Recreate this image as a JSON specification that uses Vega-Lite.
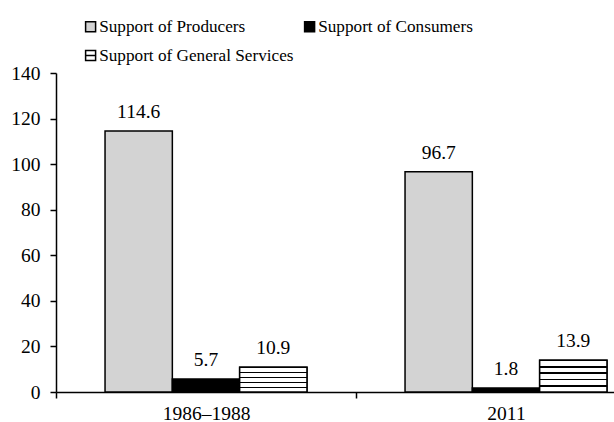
{
  "$schema": "https://vega.github.io/schema/vega-lite/v6.json",
  "width": 558,
  "height": 319,
  "autosize": {"type": "none"},
  "padding": {"left": 56, "top": 73, "right": 0, "bottom": 30},
  "background": "white",
  "config": {
    "view": {"stroke": null},
    "font": "Times New Roman, Liberation Serif, serif",
    "text": {"font": "Times New Roman, Liberation Serif, serif"},
    "axis": {
      "labelFont": "Times New Roman, Liberation Serif, serif",
      "labelFontSize": 19.5,
      "labelColor": "black",
      "domainColor": "black",
      "tickColor": "black",
      "domainWidth": 1.5,
      "tickWidth": 1.5,
      "grid": false
    },
    "legend": {
      "labelFont": "Times New Roman, Liberation Serif, serif",
      "labelFontSize": 17.2,
      "labelColor": "black",
      "labelLimit": 400,
      "symbolSize": 100,
      "symbolStrokeColor": "black",
      "symbolStrokeWidth": 1.5,
      "symbolOpacity": 1,
      "labelOffset": 0,
      "rowPadding": 11,
      "columnPadding": 7,
      "padding": 0
    }
  },
  "data": {
    "values": [
      {"period": "1986–1988", "series": "Support of Producers", "value": 114.6},
      {"period": "1986–1988", "series": "Support of Consumers", "value": 5.7},
      {"period": "1986–1988", "series": "Support of General Services", "value": 10.9},
      {"period": "2011", "series": "Support of Producers", "value": 96.7},
      {"period": "2011", "series": "Support of Consumers", "value": 1.8},
      {"period": "2011", "series": "Support of General Services", "value": 13.9}
    ]
  },
  "encoding": {
    "x": {
      "field": "period",
      "type": "nominal",
      "sort": null,
      "scale": {"range": [0, 600], "paddingInner": 0, "paddingOuter": 0},
      "axis": {"labelAngle": 0, "tickBand": "extent", "tickSize": 6, "labelPadding": 6, "title": null}
    },
    "xOffset": {
      "field": "series",
      "type": "nominal",
      "sort": null,
      "scale": {"domain": ["Support of Producers", "Support of Consumers", "Support of General Services"], "paddingInner": 0, "paddingOuter": 0.7285}
    },
    "y": {
      "field": "value",
      "type": "quantitative",
      "scale": {"domain": [0, 140], "nice": false},
      "axis": {"values": [0, 20, 40, 60, 80, 100, 120, 140], "tickSize": 6, "labelPadding": 10, "title": null}
    }
  },
  "layer": [
    {
      "mark": {"type": "bar", "stroke": "black", "strokeWidth": 1.5},
      "encoding": {
        "color": {
          "field": "series",
          "type": "nominal",
          "scale": {"domain": ["Support of Producers", "Support of Consumers", "Support of General Services"], "range": ["#d3d3d3", "#000000", "#ffffff"]},
          "legend": {
            "orient": "none",
            "legendX": 26,
            "legendY": -55,
            "columns": 2,
            "title": null,
            "values": ["Support of Producers", "Support of General Services", "Support of Consumers"],
            "symbolOpacity": 1,
            "symbolStrokeColor": "black",
            "symbolStrokeWidth": 1.5,
            "symbolType": "square",
            "encode": {
              "symbols": {
                "update": {
                  "shape": {"signal": "datum.value === 'Support of General Services' ? 'M-1,-1H1V1H-1ZM-1,0H1' : 'square'"}
                }
              }
            }
          }
        }
      }
    },
    {
      "transform": [{"filter": "datum.series === 'Support of General Services'"}],
      "mark": {
        "type": "bar",
        "stroke": "black",
        "strokeWidth": 1.5,
        "fill": {
          "gradient": "linear",
          "x1": 0, "y1": 0, "x2": 0, "y2": 1,
          "stops": [
            {"offset": 0, "color": "#ffffff"},
            {"offset": 0.18, "color": "#ffffff"},
            {"offset": 0.18, "color": "#000000"},
            {"offset": 0.23, "color": "#000000"},
            {"offset": 0.23, "color": "#ffffff"},
            {"offset": 0.38, "color": "#ffffff"},
            {"offset": 0.38, "color": "#000000"},
            {"offset": 0.43, "color": "#000000"},
            {"offset": 0.43, "color": "#ffffff"},
            {"offset": 0.58, "color": "#ffffff"},
            {"offset": 0.58, "color": "#000000"},
            {"offset": 0.63, "color": "#000000"},
            {"offset": 0.63, "color": "#ffffff"},
            {"offset": 0.78, "color": "#ffffff"},
            {"offset": 0.78, "color": "#000000"},
            {"offset": 0.83, "color": "#000000"},
            {"offset": 0.83, "color": "#ffffff"},
            {"offset": 1, "color": "#ffffff"}
          ]
        }
      }
    },
    {
      "mark": {"type": "text", "font": "Times New Roman, Liberation Serif, serif", "fontSize": 19.5, "dy": -13, "baseline": "alphabetic", "color": "black"},
      "encoding": {"text": {"field": "value", "type": "quantitative", "format": ".1f"}}
    }
  ]
}
